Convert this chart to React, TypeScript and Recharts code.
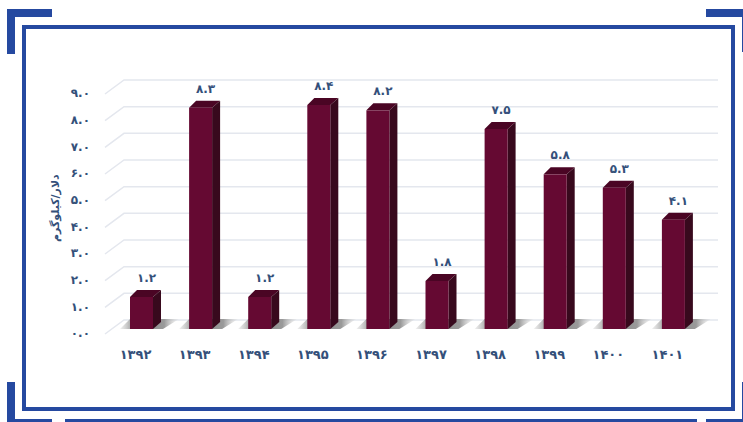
import React from 'react';
import { BarChart, Bar, XAxis, YAxis, CartesianGrid, LabelList } from 'recharts';

const years = ['۱۳۹۲', '۱۳۹۳', '۱۳۹۴', '۱۳۹۵', '۱۳۹۶', '۱۳۹۷', '۱۳۹۸', '۱۳۹۹', '۱۴۰۰', '۱۴۰۱'];
const prices = [1.2, 8.3, 1.2, 8.4, 8.2, 1.8, 7.5, 5.8, 5.3, 4.1];
const yTicks = [0, 1, 2, 3, 4, 5, 6, 7, 8, 9];
const yTitle = 'دلار/کیلوگرم';

const dados = years.map((year, i) => ({ year, price: prices[i] }));

const persianDigits = '۰۱۲۳۴۵۶۷۸۹';
const toPersian = (v: number) => v.toFixed(1).replace(/\d/g, (d) => persianDigits[Number(d)]);

const FONT = '"DejaVu Sans", sans-serif';
const TEXT = '#34507a';
const BLUE = '#2549a0';
const DEPTH_X = 8;
const DEPTH_Y = 7;

// pedaco azul da moldura
const frame = [
  [7, 9, 45, 8],
  [7, 9, 8, 45],
  [706, 9, 37, 8],
  [742, 17, 1, 35],
  [7, 382, 8, 40],
  [7, 419, 45, 3],
  [65, 419, 632, 3],
  [706, 419, 37, 3],
  [742, 382, 1, 37],
];

const GridLine = ({ x1, x2, y1 }: any) => (
  <polyline
    points={`${x1 - 7},${y1 + 5} ${x1 + 12},${y1 - 9} ${x2 + 15},${y1 - 9}`}
    fill="none"
    stroke="#e4e7ee"
    strokeWidth={1.5}
  />
);

const Bar3D = ({ x, y, width, height }: any) => {
  const bottom = y + height;
  const right = x + width;
  return (
    <g>
      <polygon
        points={`${x - 10},${bottom} ${x},${bottom - 10} ${right + 26},${bottom - 10} ${right + 10},${bottom}`}
        fill="url(#sombra)"
      />
      <polygon
        points={`${x},${y} ${x + DEPTH_X - 1},${y - DEPTH_Y} ${right + DEPTH_X},${y - DEPTH_Y} ${right},${y}`}
        fill="#4a0524"
      />
      <polygon
        points={`${right},${y} ${right + DEPTH_X},${y - DEPTH_Y} ${right + DEPTH_X},${bottom - DEPTH_Y} ${right},${bottom}`}
        fill="#38091d"
      />
      <rect x={x} y={y} width={width} height={height} fill="#650932" />
    </g>
  );
};

const ValueLabel = ({ x, y, width, value }: any) => (
  <text
    x={x + width / 2 + 5}
    y={y - 15}
    textAnchor="middle"
    fontFamily={FONT}
    fontSize={12}
    fontWeight="bold"
    fill={TEXT}
  >
    {toPersian(value)}
  </text>
);

export default function App() {
  return (
    <div style={{ position: 'absolute', left: 0, top: 0, width: 743, height: 422, background: '#fff', overflow: 'hidden' }}>
      {frame.map(([left, top, w, h], i) => (
        <div key={i} style={{ position: 'absolute', left, top, width: w, height: h, background: BLUE }} />
      ))}
      <div
        style={{
          position: 'absolute',
          left: 22,
          top: 25,
          width: 705,
          height: 378,
          border: `4.5px solid ${BLUE}`,
        }}
      />
      <div style={{ position: 'absolute', left: 0, top: 0 }}>
        <BarChart
          width={743}
          height={422}
          data={dados}
          margin={{ top: 89, right: 40, bottom: 53, left: 62 }}
        >
          <defs>
            <linearGradient id="sombra" x1="0" y1="0" x2="1" y2="0">
              <stop offset="0" stopColor="#c9c9c9" stopOpacity={0.3} />
              <stop offset="0.25" stopColor="#858585" />
              <stop offset="0.75" stopColor="#9a9a9a" />
              <stop offset="1" stopColor="#d8d8d8" stopOpacity={0.2} />
            </linearGradient>
          </defs>
          <CartesianGrid vertical={false} horizontal={(p: any) => <GridLine key={p.key ?? p.y1} {...p} />} />
          <XAxis
            dataKey="year"
            axisLine={false}
            tickLine={false}
            interval={0}
            height={40}
            tick={{ fill: TEXT, fontFamily: FONT, fontSize: 13, fontWeight: 'bold', dx: -6, dy: 13 }}
          />
          <YAxis
            width={50}
            domain={[0, 9]}
            ticks={yTicks}
            interval={0}
            axisLine={false}
            tickLine={false}
            tickFormatter={toPersian}
            tick={{ fill: TEXT, fontFamily: FONT, fontSize: 12, fontWeight: 'bold', dx: -14, dy: 4 }}
            label={{
              value: yTitle,
              angle: -90,
              position: 'insideLeft',
              dx: -12,
              dy: 33,
              fill: TEXT,
              fontFamily: FONT,
              fontSize: 11,
              fontWeight: 'bold',
            }}
          />
          <Bar dataKey="price" barSize={23} shape={<Bar3D />} isAnimationActive={false}>
            <LabelList dataKey="price" content={<ValueLabel />} />
          </Bar>
        </BarChart>
      </div>
    </div>
  );
}
